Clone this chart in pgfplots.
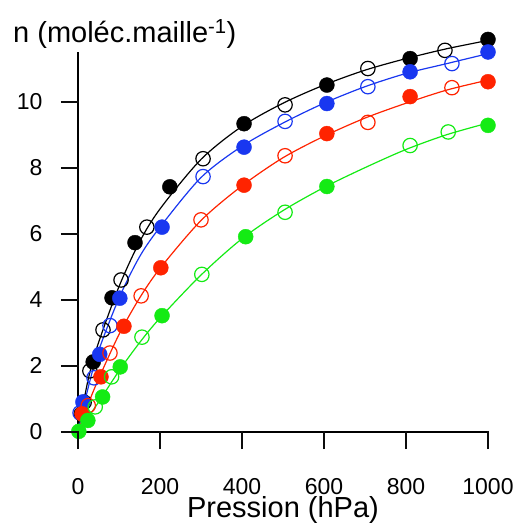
\documentclass[border=0pt]{standalone}
\usepackage{fontspec}
\setmainfont{Liberation Sans}
\usepackage{pgfplots}
\pgfplotsset{compat=1.18}
\definecolor{cblue}{RGB}{25,55,240}
\definecolor{cred}{RGB}{255,35,0}
\definecolor{cgreen}{RGB}{20,235,20}
\definecolor{tickc}{RGB}{12,12,12}
\begin{document}
\begin{tikzpicture}
\begin{axis}[
  name=ax,
  at={(78pt,92pt)}, anchor=south west,
  width=410pt, height=380pt, scale only axis,
  xmin=0, xmax=1000, ymin=0, ymax=11.5,
  axis x line*=bottom, axis y line*=left,
  axis line style={line width=2pt, -},
  tick align=outside, major tick length=17pt,
  every tick/.style={tickc, line width=2pt},
  xtick={0,200,...,1000}, ytick={0,2,...,10},
  minor tick num=0,
  tick label style={font=\fontsize{23}{27}\selectfont},
  xticklabel style={yshift=-26pt},
  yticklabel style={xshift=-15pt},
  /pgf/number format/assume math mode=true,
  /pgf/number format/1000 sep={},
  xlabel={Pression (hPa)},
  ylabel={n (moléc.maille\textsuperscript{-1})},
  label style={font=\fontsize{29}{34}\selectfont, inner sep=0pt},
  xlabel style={at={(rel axis cs:0.5,0)}, anchor=base, yshift=-85pt},
  ylabel style={rotate=-90, at={(rel axis cs:0,1)}, anchor=base west, xshift=-65pt, yshift=9.5pt},
  clip=false,
]
\coordinate (ta) at (axis cs:0,0);
\coordinate (tb) at (axis cs:200,0);
\coordinate (tc) at (axis cs:400,0);
\coordinate (td) at (axis cs:600,0);
\coordinate (te) at (axis cs:800,0);
\coordinate (tf) at (axis cs:1000,0);
\coordinate (ua) at (axis cs:0,2);
\coordinate (ub) at (axis cs:0,4);
\coordinate (uc) at (axis cs:0,6);
\coordinate (ud) at (axis cs:0,8);
\coordinate (ue) at (axis cs:0,10);
% fitted curves
\addplot[black, line width=1.2pt, smooth] coordinates {(0,0) (25,1.6) (50,2.7) (100,4.4) (150,5.75) (200,6.75) (300,8.25) (400,9.25) (500,9.95) (600,10.5) (700,10.95) (800,11.3) (900,11.6) (1000,11.85)};
\addplot[cblue, line width=1.2pt, smooth] coordinates {(0,0) (25,1.35) (50,2.45) (100,4.05) (150,5.3) (200,6.2) (300,7.7) (400,8.65) (500,9.35) (600,9.95) (700,10.45) (800,10.85) (900,11.15) (1000,11.45)};
\addplot[cred, line width=1.2pt, smooth] coordinates {(0,0) (25,0.85) (50,1.6) (100,2.95) (150,4.05) (200,4.95) (300,6.4) (400,7.45) (500,8.3) (600,8.95) (700,9.5) (800,9.95) (900,10.35) (1000,10.65)};
\addplot[cgreen, line width=1.2pt, smooth] coordinates {(0,0) (25,0.45) (50,0.9) (100,1.85) (150,2.7) (200,3.45) (300,4.75) (400,5.85) (500,6.7) (600,7.4) (700,8.0) (800,8.55) (900,9.0) (1000,9.35)};
% black
\addplot[only marks, mark=*, mark size=7.5pt, black] coordinates {(8,0.55) (37,2.12) (83,4.06) (139,5.73) (224,7.42) (405,9.33) (607,10.5) (810,11.3) (1000,11.88)};
\addplot[only marks, mark=o, mark size=7.2pt, black, line width=1.2pt] coordinates {(15,0.9) (29,1.85) (61,3.09) (105,4.6) (168,6.2) (305,8.27) (505,9.9) (707,11.0) (895,11.55)};
% blue
\addplot[only marks, mark=*, mark size=7.5pt, cblue] coordinates {(12,0.91) (53,2.35) (102,4.05) (205,6.2) (405,8.62) (607,9.94) (810,10.9) (1000,11.5)};
\addplot[only marks, mark=o, mark size=7.2pt, cblue, line width=1.2pt] coordinates {(5,0.58) (39,1.64) (78,3.22) (305,7.73) (505,9.4) (707,10.45) (912,11.15)};
% red
\addplot[only marks, mark=*, mark size=7.5pt, cred] coordinates {(10,0.55) (56,1.67) (112,3.2) (202,4.97) (405,7.47) (607,9.03) (810,10.15) (1000,10.6)};
\addplot[only marks, mark=o, mark size=7.2pt, cred, line width=1.2pt] coordinates {(25,0.8) (78,2.39) (154,4.12) (300,6.42) (505,8.36) (707,9.37) (912,10.42)};
% green
\addplot[only marks, mark=*, mark size=7.5pt, cgreen] coordinates {(2,0.02) (24,0.35) (60,1.06) (103,1.97) (205,3.52) (409,5.91) (607,7.43) (1000,9.28)};
\addplot[only marks, mark=o, mark size=7.2pt, cgreen, line width=1.2pt] coordinates {(42,0.76) (82,1.67) (156,2.87) (302,4.77) (505,6.65) (810,8.67) (903,9.08)};
\end{axis}
\draw[tickc, line width=2pt] (ta) ++(0pt,1pt) -- ++(0pt,-18pt);
\draw[tickc, line width=2pt] (tb) ++(0pt,1pt) -- ++(0pt,-18pt);
\draw[tickc, line width=2pt] (tc) ++(0pt,1pt) -- ++(0pt,-18pt);
\draw[tickc, line width=2pt] (td) ++(0pt,1pt) -- ++(0pt,-18pt);
\draw[tickc, line width=2pt] (te) ++(0pt,1pt) -- ++(0pt,-18pt);
\draw[tickc, line width=2pt] (tf) ++(0pt,1pt) -- ++(0pt,-18pt);
\draw[tickc, line width=2pt] (ta) ++(1pt,0pt) -- ++(-18pt,0pt);
\draw[tickc, line width=2pt] (ua) ++(1pt,0pt) -- ++(-18pt,0pt);
\draw[tickc, line width=2pt] (ub) ++(1pt,0pt) -- ++(-18pt,0pt);
\draw[tickc, line width=2pt] (uc) ++(1pt,0pt) -- ++(-18pt,0pt);
\draw[tickc, line width=2pt] (ud) ++(1pt,0pt) -- ++(-18pt,0pt);
\draw[tickc, line width=2pt] (ue) ++(1pt,0pt) -- ++(-18pt,0pt);
\useasboundingbox (0,0) rectangle (527pt,524pt);
\end{tikzpicture}
\end{document}
